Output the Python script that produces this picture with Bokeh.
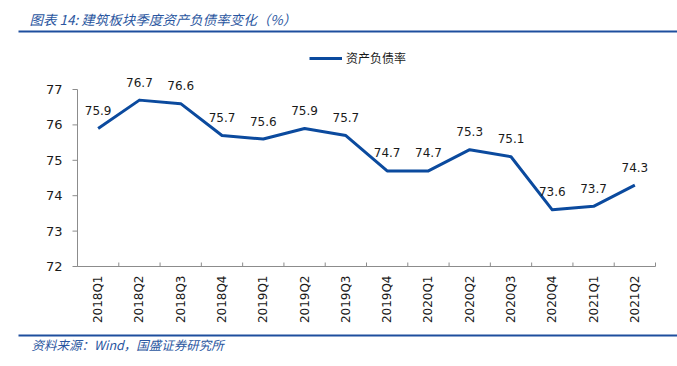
import math
from bokeh.plotting import figure
from bokeh.models import Range1d, Legend, LegendItem, ColumnDataSource
from bokeh.embed import file_html
from bokeh.resources import INLINE
from bokeh.core.properties import value

# ---- data ----
categories = ["2018Q1", "2018Q2", "2018Q3", "2018Q4",
              "2019Q1", "2019Q2", "2019Q3", "2019Q4",
              "2020Q1", "2020Q2", "2020Q3", "2020Q4",
              "2021Q1", "2021Q2"]
ratio = [75.9, 76.7, 76.6, 75.7, 75.6, 75.9, 75.7, 74.7, 74.7, 75.3, 75.1, 73.6, 73.7, 74.3]
y_ticks = [72, 73, 74, 75, 76, 77]
series_name = "资产负债率"
title_text = "图表 14:  建筑板块季度资产负债率变化（%）"
source_text = "资料来源：Wind，国盛证券研究所"

# ---- layout / styles (pixels of the page) ----
W, H = 677, 366
PL, PR, PT, PB = 77, 655, 89, 266      # plot-area edges
LINE_BLUE = "#0B4A9E"
TEXT_BLUE = "#2A56A0"
RULE_BLUE = "#1E4F9E"
AXIS_GRAY = "#8C8C8C"
TXT = "#1A1A1A"
NUM_FONT = "DejaVu Sans"
CJK_FONT = "Noto Sans CJK SC"

n = len(categories)
xlo, xhi = -0.5, n - 0.5
ylo, yhi = y_ticks[0], y_ticks[-1]
sx = (PR - PL) / (xhi - xlo)
sy = (PB - PT) / (yhi - ylo)


def dx(px):
    return xlo + (px - PL) / sx


def dy(py):
    return ylo + (PB - py) / sy


p = figure(width=W, height=H, x_range=Range1d(dx(0), dx(W)), y_range=Range1d(dy(H), dy(0)),
           toolbar_location=None, output_backend="svg",
           x_axis_location=None, y_axis_location=None, min_border=0)
p.grid.visible = False
p.outline_line_color = None

# ---- axes ----
# y axis line, ticks, labels
p.segment(x0=[xlo], y0=[ylo], x1=[xlo], y1=[yhi], line_color=AXIS_GRAY, line_width=1)
p.segment(x0=[dx(PL - 5)] * len(y_ticks), y0=y_ticks, x1=[xlo] * len(y_ticks), y1=y_ticks,
          line_color=AXIS_GRAY, line_width=1)
p.text(x=[dx(PL - 15)] * len(y_ticks), y=y_ticks, text=[str(t) for t in y_ticks],
       text_align="right", text_baseline="middle", text_font=value(NUM_FONT),
       text_font_size="13px", text_color=TXT)
# x axis line, boundary ticks, rotated labels
xs = list(range(n))
bounds = [i - 0.5 for i in range(n + 1)]
p.segment(x0=[xlo], y0=[ylo], x1=[xhi], y1=[ylo], line_color=AXIS_GRAY, line_width=1)
p.segment(x0=bounds, y0=[ylo] * len(bounds), x1=bounds, y1=[dy(PB - 4)] * len(bounds),
          line_color=AXIS_GRAY, line_width=1)
p.text(x=xs, y=[dy(PB + 9)] * n, text=categories, angle=math.pi / 2,
       text_align="right", text_baseline="middle", text_font=value(NUM_FONT),
       text_font_size="12px", text_color=TXT)

# ---- series ----
src = ColumnDataSource(dict(x=xs, y=ratio, lab=[f"{v:.1f}" for v in ratio]))
r = p.line("x", "y", source=src, line_color=LINE_BLUE, line_width=3, line_join="round")
p.text("x", "y", text="lab", source=src, y_offset=-18, text_align="center",
       text_baseline="middle", text_font=value(NUM_FONT), text_font_size="12px",
       text_color=TXT)

legend = Legend(items=[LegendItem(label=series_name, renderers=[r])],
                location=(309, H - 66), orientation="horizontal",
                border_line_color=None, background_fill_alpha=0,
                glyph_width=33, glyph_height=14, label_standoff=4, padding=2, margin=0,
                label_text_font=CJK_FONT, label_text_font_size="12px",
                label_text_color=TXT)
p.add_layout(legend, "center")

# ---- title & source, with rules ----
p.text(x=[dx(29)], y=[dy(18.5)], text=[title_text], text_font=value(CJK_FONT),
       text_font_style="italic", text_font_size="13.5px", text_color=TEXT_BLUE,
       text_baseline="middle", text_align="left")
p.segment(x0=[dx(18)], y0=[dy(31)], x1=[dx(W)], y1=[dy(31)], line_color=RULE_BLUE, line_width=2)
p.segment(x0=[dx(18)], y0=[dy(335)], x1=[dx(W)], y1=[dy(335)], line_color=RULE_BLUE, line_width=2)
p.text(x=[dx(31)], y=[dy(344)], text=[source_text], text_font=value(CJK_FONT),
       text_font_style="italic", text_font_size="12.5px", text_color=TEXT_BLUE,
       text_baseline="middle", text_align="left")

open("out.html", "w").write(file_html(p, INLINE))
